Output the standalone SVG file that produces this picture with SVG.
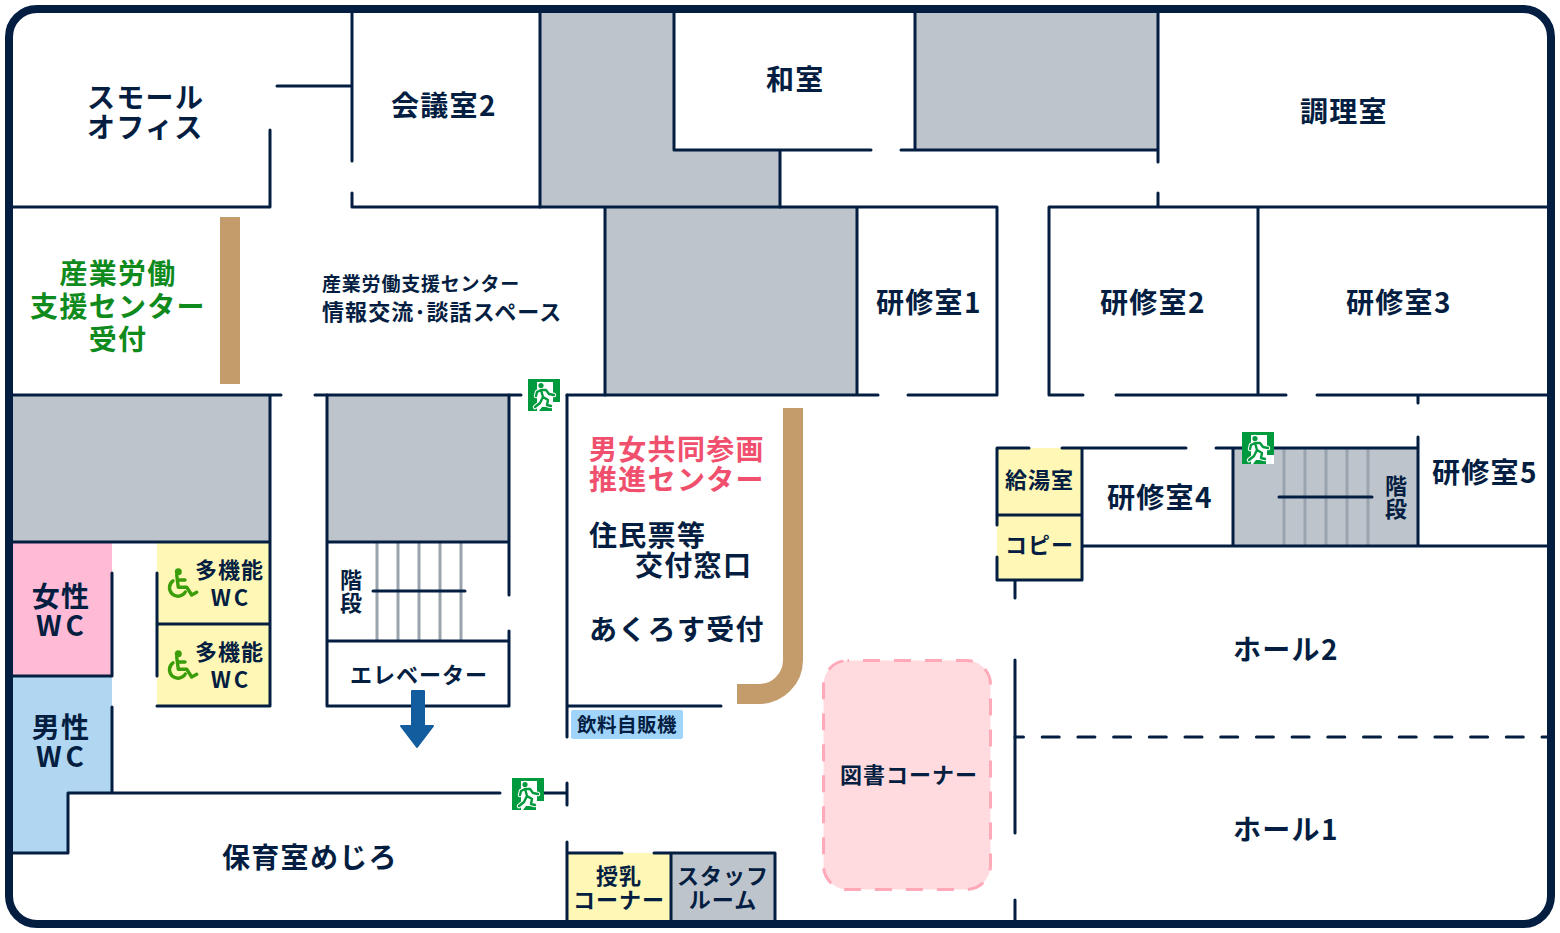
<svg xmlns="http://www.w3.org/2000/svg" xmlns:xlink="http://www.w3.org/1999/xlink" width="1560" height="933" viewBox="0 0 1560 933">
<style>
text{font-family:"Noto Sans CJK JP","Noto Sans",sans-serif;font-weight:700;fill:#041e42}
.l{font-size:28px;letter-spacing:1.3px}
.m{font-size:22px;letter-spacing:1px}
.wl{font-size:28px;letter-spacing:4px}
.wm{font-size:22px;letter-spacing:3px}
.c{text-anchor:middle}
.w{fill:none;stroke:#041e42;stroke-width:3;stroke-linecap:round;stroke-linejoin:round}
.b{fill:none;stroke:#9aa4ae;stroke-width:3}
.g{fill:#bdc4cb}.y{fill:#fff7b5}
</style>
<defs>
<symbol id="exit" viewBox="0 0 32 32">
<rect width="32" height="32" fill="#009a3e"/>
<path d="M9 3H25V23H32V32H24V28H14L11 32H9Z" fill="#fff"/>
<g fill="none" stroke="#fff" stroke-width="4.500" stroke-linecap="round" stroke-linejoin="round">
<path d="M13 11L9 13L8 17M13 11L18 11L21 15L26 16M13 11L15 18L20 21L19 26L23 27M15 18L12 24L7 28"/>
</g>
<circle cx="13" cy="6.500" r="3.800" fill="#fff"/>
<circle cx="13" cy="6.500" r="2.600" fill="#009a3e"/>
<g fill="none" stroke="#009a3e" stroke-width="2.400" stroke-linecap="round" stroke-linejoin="round">
<path d="M13 11L9 13L8 17M13 11L18 11L21 15L26 16M13 11L15 18L20 21L19 26L23 27M15 18L12 24L7 28"/>
</g>
</symbol>
<symbol id="wheel" viewBox="0 0 32 34" overflow="visible">
<circle cx="12.300" cy="4.700" r="3.500" fill="#3a9e0a"/>
<path d="M10.700 8L12.300 20.300H20.700L25.700 28L30.700 25.300M11.500 13H19" fill="none" stroke="#3a9e0a" stroke-width="3.400" stroke-linecap="round" stroke-linejoin="round"/>
<path d="M7 13.800A8.500 8.500 0 1 0 19.300 25" fill="none" stroke="#3a9e0a" stroke-width="3.400" stroke-linecap="round"/>
</symbol>
</defs>
<rect width="1560" height="933" fill="#fff"/>
<g id="fills">
<rect x="9" y="9" width="1542" height="915" rx="28" fill="#fff"/>
<path class="g" d="M540 12H674V150H780V207H540Z"/>
<rect class="g" x="915" y="12" width="243" height="138"/>
<rect class="g" x="605" y="207" width="252" height="188"/>
<rect class="g" x="12" y="395" width="258" height="147"/>
<rect class="g" x="327" y="395" width="182" height="147"/>
<rect class="g" x="1233" y="448" width="185" height="98"/>
<rect class="g" x="671" y="853" width="104" height="67"/>
<rect x="12" y="542" width="100" height="134" fill="#ffbbd6"/>
<path d="M12 676H112V793H68V853H12Z" fill="#b0d6f2"/>
<rect class="y" x="157" y="542" width="113" height="164"/>
<rect class="y" x="997" y="448" width="85" height="132"/>
<rect class="y" x="567" y="853" width="104" height="67"/>
<rect x="220" y="217" width="20" height="167" fill="#c49c6c"/>
<path d="M793 408V660A34 34 0 0 1 759 694H737" fill="none" stroke="#c49c6c" stroke-width="20"/>
<rect x="571" y="710" width="112" height="29" rx="2" fill="#a0d4fb"/>
</g>
<g id="stairs">
<path class="b" d="M377 542V641M398 542V641M419 542V641M440 542V641M461 542V641M1284 448V546M1305 448V546M1326 448V546M1347 448V546M1368 448V546"/>
</g>
<g id="library">
<rect x="823.500" y="660.500" width="167" height="229" rx="24" fill="#ffdbe0" stroke="#ffa9b9" stroke-width="3" stroke-dasharray="17 14" stroke-dashoffset="15.500"/>
</g>
<g id="walls" class="w">
<path d="M12 207H270V130M277 86H352M352 12V161M352 193V207H997V395H908M878 395H605V207M857 207V395"/>
<path d="M540 12V207M674 12V150H871M901 150H1158M780 150V207M915 12V150M1158 12V162M1158 193V207M1049 207H1548M1049 207V395H1083M1116 395H1286M1258 207V395M1317 395H1548M1418 395V403"/>
<path d="M12 395H281M315 395H521M567 395H605M270 395V706H157M12 542H270M157 573V676M157 624H270M112 573V676H12M112 707V793M68 793H500M544 793H567M68 793V853H12M567 783V805"/>
<path d="M327 395V706H509V631M509 395V595M327 542H509M327 641H509"/>
<path d="M567 395V737M567 706H721M567 842V920M567 853H622M654 853H775V920M671 853V920"/>
<path d="M997 448H1029M1062 448H1186M1216 448H1418M1418 437V546M997 448V525M997 557V580H1082V448M997 515H1082M1082 546H1548M1233 448V546M1015 580V598M1015 660V833M1015 900V920"/>
<path d="M1015 737H1548" stroke-dasharray="17 18.700" stroke-dashoffset="8.500"/>
<path d="M373 591H465M1279 497H1372"/>
</g>
<rect id="outer" x="9" y="9" width="1542" height="915" rx="28" fill="none" stroke="#041e42" stroke-width="8"/>
<g id="arrow"><path d="M412 691H424V726H433L417 747L401 726H412Z" fill="#135c9e" stroke="#135c9e" stroke-width="2" stroke-linejoin="round"/></g>
<use id="exit1" href="#exit" xlink:href="#exit" x="528" y="379" width="32" height="32"/>
<use id="exit2" href="#exit" xlink:href="#exit" x="512" y="778" width="32" height="32"/>
<use id="exit3" href="#exit" xlink:href="#exit" x="1242" y="432" width="32" height="32"/>
<use id="wc1" href="#wheel" xlink:href="#wheel" x="166" y="567" width="32" height="34"/>
<use id="wc2" href="#wheel" xlink:href="#wheel" x="166" y="649" width="32" height="34"/>
<g id="room-small-office"><text class="l" x="87" y="108">スモール</text><text class="l" x="87" y="138">オフィス</text></g>
<g id="room-meeting2"><text class="l" x="391" y="116">会議室2</text></g>
<g id="room-washitsu"><text class="l" x="766" y="90">和室</text></g>
<g id="room-kitchen"><text class="l" x="1300" y="122">調理室</text></g>
<g id="room-reception"><text class="l c" x="118" y="284" style="fill:#0f8a1c">産業労働</text><text class="l c" x="118" y="317" style="fill:#0f8a1c">支援センター</text><text class="l c" x="118" y="350" style="fill:#0f8a1c">受付</text></g>
<g id="room-lounge"><text x="322" y="291" font-size="19" letter-spacing=".8">産業労働支援センター</text><text x="322" y="320" font-size="22" letter-spacing="1.100">情報交流･談話スペース</text></g>
<g id="room-t1"><text class="l" x="876" y="313">研修室1</text></g>
<g id="room-t2"><text class="l" x="1100" y="313">研修室2</text></g>
<g id="room-t3"><text class="l" x="1346" y="313">研修室3</text></g>
<g id="room-t4"><text class="l" x="1107" y="508">研修室4</text></g>
<g id="room-t5"><text class="l" x="1432" y="483">研修室5</text></g>
<g id="room-center"><text class="l" x="589" y="460" style="fill:#f0506e">男女共同参画</text><text class="l" x="589" y="490" style="fill:#f0506e">推進センター</text><text class="l" x="589" y="546">住民票等</text><text class="l" x="635" y="576">交付窓口</text><text class="l" x="589" y="640">あくろす受付</text></g>
<g id="room-women"><text class="l c" x="61" y="607">女性</text><text class="wl c" x="62" y="636">WC</text></g>
<g id="room-men"><text class="l c" x="61" y="738">男性</text><text class="wl c" x="62" y="767">WC</text></g>
<g id="room-mwc1"><text class="m" x="195" y="578">多機能</text><text class="wm c" x="231" y="606">WC</text></g>
<g id="room-mwc2"><text class="m" x="195" y="660">多機能</text><text class="wm c" x="231" y="688">WC</text></g>
<g id="room-stair1"><text class="m" x="340" y="588">階</text><text class="m" x="340" y="611">段</text></g>
<g id="room-elevator"><text class="m" x="350" y="683">エレベーター</text></g>
<g id="room-nursery"><text class="l" x="222" y="868">保育室めじろ</text></g>
<g id="room-vending"><text x="577" y="732" font-size="19.500" letter-spacing=".5">飲料自販機</text></g>
<g id="room-nursing"><text class="m c" x="619" y="884">授乳</text><text class="m c" x="619" y="908">コーナー</text></g>
<g id="room-staff"><text class="m c" x="723" y="884">スタッフ</text><text class="m c" x="723" y="908">ルーム</text></g>
<g id="room-books"><text class="m" x="840" y="783">図書コーナー</text></g>
<g id="room-kyuto"><text class="m" x="1005" y="488">給湯室</text></g>
<g id="room-copy"><text class="m" x="1005" y="553">コピー</text></g>
<g id="room-stair2"><text class="m" x="1385" y="494">階</text><text class="m" x="1385" y="517">段</text></g>
<g id="room-hall2"><text class="l" x="1233" y="660">ホール2</text></g>
<g id="room-hall1"><text class="l" x="1233" y="840">ホール1</text></g>
</svg>
